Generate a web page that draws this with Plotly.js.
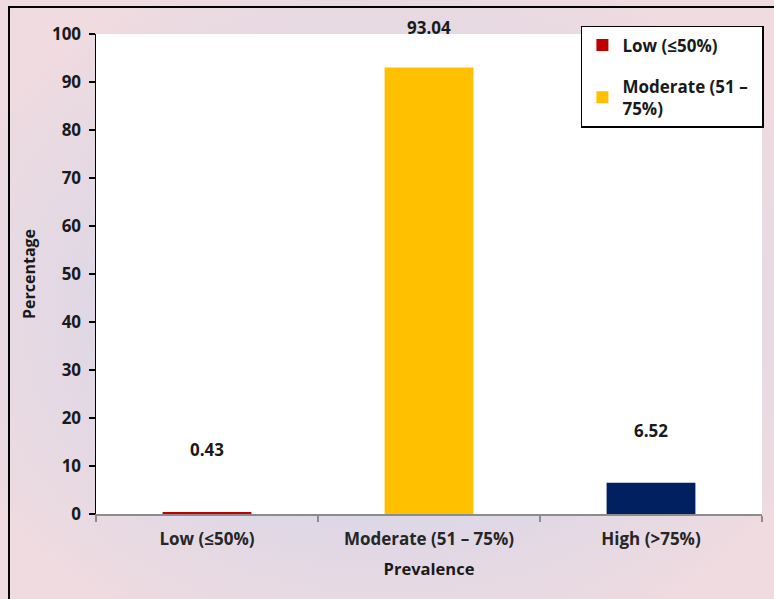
<!DOCTYPE html>
<html>
<head>
<meta charset="utf-8">
<script src="https://cdn.plot.ly/plotly-3.0.1.min.js"></script>
<style>
  html, body { margin: 0; padding: 0; width: 774px; height: 599px; overflow: hidden; }
  body {
    background: radial-gradient(ellipse 60% 60% at 50% 52%, #dad6e8 0%, #dcd7e6 55%, #efdbe0 100%);
  }
  #frame {
    position: absolute; left: 8px; top: 6px; width: 766px; height: 593px;
    border-left: 2px solid #000; border-top: 2px solid #000; box-sizing: border-box;
    pointer-events: none; z-index: 5;
  }
  #chart { position: absolute; left: 0; top: 0; width: 774px; height: 599px; }
</style>
</head>
<body>
<div id="chart"></div>
<div id="frame"></div>
<script>
// Data
const categories = ["Low (≤50%)", "Moderate (51 – 75%)", "High (>75%)"];
const legendNames = ["Low (≤50%)", "Moderate (51 –\u00a0\u00a0<br>75%)", "High (>75%)"];
const values = [0.43, 93.04, 6.52];
const valueLabels = ["0.43", "93.04", "6.52"];
const barColors = ["#c00000", "#ffc000", "#002060"];
const yTicks = [0, 10, 20, 30, 40, 50, 60, 70, 80, 90, 100];

const FONT = "'Open Sans', Lato, sans-serif";
const labelShift = [62, 40, 52];

const traces = categories.map((c, i) => ({
  type: "bar",
  x: [c],
  y: [values[i]],
  name: legendNames[i],
  marker: { color: barColors[i] },
  showlegend: i < 2,
  legendgroup: "g" + i,
  hoverinfo: "x+y"
}));

const annotations = categories.map((c, i) => ({
  x: c, y: values[i], xref: "x", yref: "y",
  text: valueLabels[i], showarrow: false, yshift: labelShift[i],
  font: { family: FONT, size: 17, color: "#1a1a1a", weight: "bold" }
}));

const layout = {
  width: 774, height: 599,
  margin: { l: 96, r: 11, t: 34, b: 85, pad: 0 },
  paper_bgcolor: "rgba(0,0,0,0)",
  plot_bgcolor: "#ffffff",
  barmode: "group",
  bargap: 0.6,
  font: { family: FONT, size: 17, color: "#1a1a1a", weight: "bold" },
  xaxis: {
    type: "category",
    categoryorder: "array", categoryarray: categories,
    showline: true, linecolor: "#8c8c8c", linewidth: 1.5,
    ticks: "outside", tickson: "boundaries", ticklen: 6, tickcolor: "#8c8c8c", tickwidth: 1.5,
    showgrid: false, zeroline: false,
    ticklabelstandoff: 9,
    tickfont: { family: FONT, size: 17, color: "#262626", weight: "bold" },
    title: { text: "Prevalence", font: { family: FONT, size: 16.5, color: "#1a1a1a", weight: "bold" }, standoff: 14 }
  },
  yaxis: {
    range: [0, 100], tickvals: yTicks,
    showline: true, linecolor: "#000000", linewidth: 1.5,
    ticks: "outside", ticklen: 6, tickcolor: "#000000", tickwidth: 1.5,
    showgrid: false, zeroline: false,
    ticklabelstandoff: 4,
    tickfont: { family: FONT, size: 17, color: "#1a1a1a", weight: "bold" },
    title: { text: "Percentage", font: { family: FONT, size: 16, color: "#1a1a1a", weight: "bold" }, standoff: 12 }
  },
  legend: {
    x: 0.727, xanchor: "left", y: 1.0167, yanchor: "top",
    bgcolor: "#ffffff", bordercolor: "#000000", borderwidth: 1.5,
    traceorder: "grouped", tracegroupgap: 16,
    font: { family: FONT, size: 17, color: "#1a1a1a", weight: "bold" }
  },
  annotations: annotations
};

Plotly.newPlot("chart", traces, layout, { displayModeBar: false, staticPlot: true });
</script>
</body>
</html>
